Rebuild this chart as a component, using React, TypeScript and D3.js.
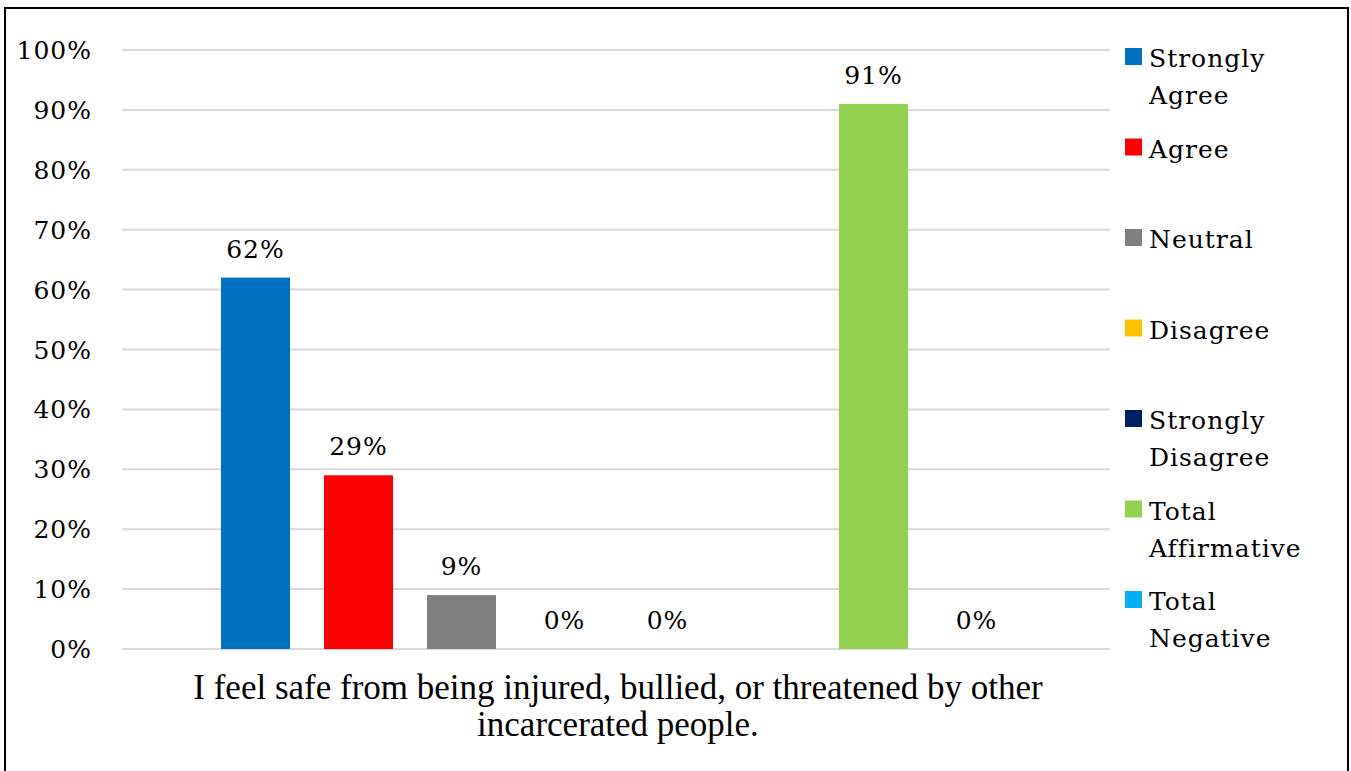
import React from "react";
import * as d3 from "d3";

const categoryLabel = ["I feel safe from being injured, bullied, or threatened by other", "incarcerated people."];
const seriesNames = ["Strongly Agree", "Agree", "Neutral", "Disagree", "Strongly Disagree", "", "Total Affirmative", "Total Negative"];
const seriesValues: (number | null)[] = [62, 29, 9, 0, 0, null, 91, 0];
const seriesColors = ["#0070C0", "#FF0000", "#7F7F7F", "#FFC000", "#002060", "none", "#92D050", "#00B0F0"];
const legendLines = [["Strongly", "Agree"], ["Agree"], ["Neutral"], ["Disagree"], ["Strongly", "Disagree"], ["Total", "Affirmative"], ["Total", "Negative"]];
const legendColors = ["#0070C0", "#FF0000", "#7F7F7F", "#FFC000", "#002060", "#92D050", "#00B0F0"];
const yTicks = [0, 10, 20, 30, 40, 50, 60, 70, 80, 90, 100];

const W = 1351, H = 771;
const plot = { left: 122, right: 1110, top: 50, bottom: 649 };
const numFont = "'DejaVu Serif', Georgia, serif";

export default function App() {
  const y = d3.scaleLinear().domain([0, 100]).range([plot.bottom, plot.top]);
  const x = d3.scaleBand<number>()
    .domain(d3.range(seriesNames.length))
    .range([plot.left, plot.right])
    .paddingInner(0.33)
    .paddingOuter(0.961);

  return (
    <svg width={W} height={H} style={{ position: "fixed", left: 0, top: 0, background: "#fff" }}>
      <rect x={0} y={0} width={W} height={H} fill="#fff" />
      <rect x={5} y={8} width={1343} height={800} fill="none" stroke="#000" strokeWidth={2} />
      {yTicks.map((t) => (
        <g key={t}>
          <line x1={plot.left} x2={plot.right} y1={y(t)} y2={y(t)} stroke="#d9d9d9" strokeWidth={2} />
          <text x={92} y={y(t) + 9} textAnchor="end" fontFamily={numFont} fontSize={25} letterSpacing={1} fill="#000">{t}%</text>
        </g>
      ))}
      {seriesValues.map((v, i) =>
        v === null ? null : (
          <g key={i}>
            <rect x={x(i)} y={y(v)} width={x.bandwidth()} height={plot.bottom - y(v)} fill={seriesColors[i]} />
            <text x={(x(i) as number) + x.bandwidth() / 2} y={y(v) - 20} textAnchor="middle" fontFamily={numFont} fontSize={25} letterSpacing={1} fill="#000">{v}%</text>
          </g>
        )
      )}
      {categoryLabel.map((l, i) => (
        <text key={i} x={(plot.left + plot.right) / 2 + 2} y={699 + i * 37} textAnchor="middle" fontFamily="'Liberation Serif', serif" fontSize={35} fill="#000">{l}</text>
      ))}
      {legendLines.map((lines, i) => (
        <g key={i} transform={`translate(1125, ${48 + i * 90.5})`}>
          <rect x={0} y={0} width={17} height={17} fill={legendColors[i]} />
          {lines.map((ln, j) => (
            <text key={j} x={24} y={19 + j * 37} fontFamily={numFont} fontSize={25} letterSpacing={1} fill="#000">{ln}</text>
          ))}
        </g>
      ))}
    </svg>
  );
}
